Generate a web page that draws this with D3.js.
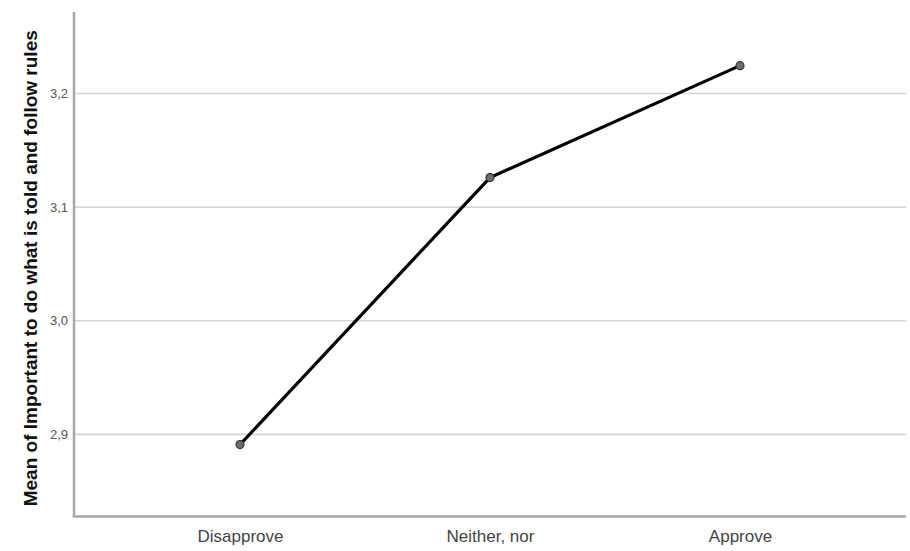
<!DOCTYPE html>
<html><head><meta charset="utf-8">
<script src="https://cdn.jsdelivr.net/npm/d3@7"></script>
<style>body{margin:0;background:#fff;}svg{display:block;}</style>
</head><body><svg id="c" width="910" height="551"></svg>
<script>
const categories = ["Disapprove", "Neither, nor", "Approve"];
const means = [2.891, 3.126, 3.2245];
const yTicks = [2.9, 3.0, 3.1, 3.2];
const yDomain = [2.8277, 3.2717];
const yTitle = "Mean of Important to do what is told and follow rules";

(function () {
const svg = d3.select("#c");
const mLeft = 74, mRight = 906, mTop = 12, mBottom = 516.5;
const x = d3.scalePoint().domain(categories).range([mLeft, mRight]).padding(0.664);
const y = d3.scaleLinear().domain(yDomain).range([mBottom, mTop]);
const fmt = d => d3.format(".1f")(d).replace(".", ",");

// gridlines
svg.append("g").selectAll("line").data(yTicks).join("line")
  .attr("x1", mLeft).attr("x2", mRight)
  .attr("y1", d => y(d)).attr("y2", d => y(d))
  .attr("stroke", "#d6d6d6").attr("stroke-width", 1.6);

// y axis
const ya = svg.append("g").attr("transform", `translate(${mLeft},0)`)
  .call(d3.axisLeft(y).tickValues(yTicks).tickFormat(fmt).tickSize(0).tickPadding(6));
ya.select(".domain").remove();
ya.selectAll("text").attr("font-family", "Liberation Sans, Arial, sans-serif")
  .attr("font-size", 13).attr("fill", "#555");

// x axis
const xa = svg.append("g").attr("transform", `translate(0,${mBottom})`)
  .call(d3.axisBottom(x).tickSize(0).tickPadding(13));
xa.select(".domain").remove();
xa.selectAll("text").attr("font-family", "Liberation Sans, Arial, sans-serif")
  .attr("font-size", 17).attr("fill", "#444");

// axis lines
svg.append("line").attr("x1", mLeft).attr("x2", mLeft).attr("y1", mTop).attr("y2", mBottom)
  .attr("stroke", "#a8a8a8").attr("stroke-width", 2.5);
svg.append("line").attr("x1", mLeft - 1.25).attr("x2", mRight).attr("y1", mBottom).attr("y2", mBottom)
  .attr("stroke", "#a8a8a8").attr("stroke-width", 2.5);

// line
const data = categories.map((c, i) => ({c, v: means[i]}));
svg.append("path").datum(data)
  .attr("fill", "none").attr("stroke", "#000").attr("stroke-width", 3.2)
  .attr("d", d3.line().x(d => x(d.c)).y(d => y(d.v)));
svg.append("g").selectAll("circle").data(data).join("circle")
  .attr("cx", d => x(d.c)).attr("cy", d => y(d.v)).attr("r", 4)
  .attr("fill", "#6e6e6e").attr("stroke", "#333").attr("stroke-width", 1.2);

// y title
svg.append("text")
  .attr("transform", `translate(37,${(mTop + mBottom) / 2 + 4}) rotate(-90)`)
  .attr("text-anchor", "middle")
  .attr("font-family", "Liberation Sans, Arial, sans-serif")
  .attr("font-weight", "bold").attr("font-size", 19).attr("fill", "#111")
  .text(yTitle);
})();
</script></body></html>
